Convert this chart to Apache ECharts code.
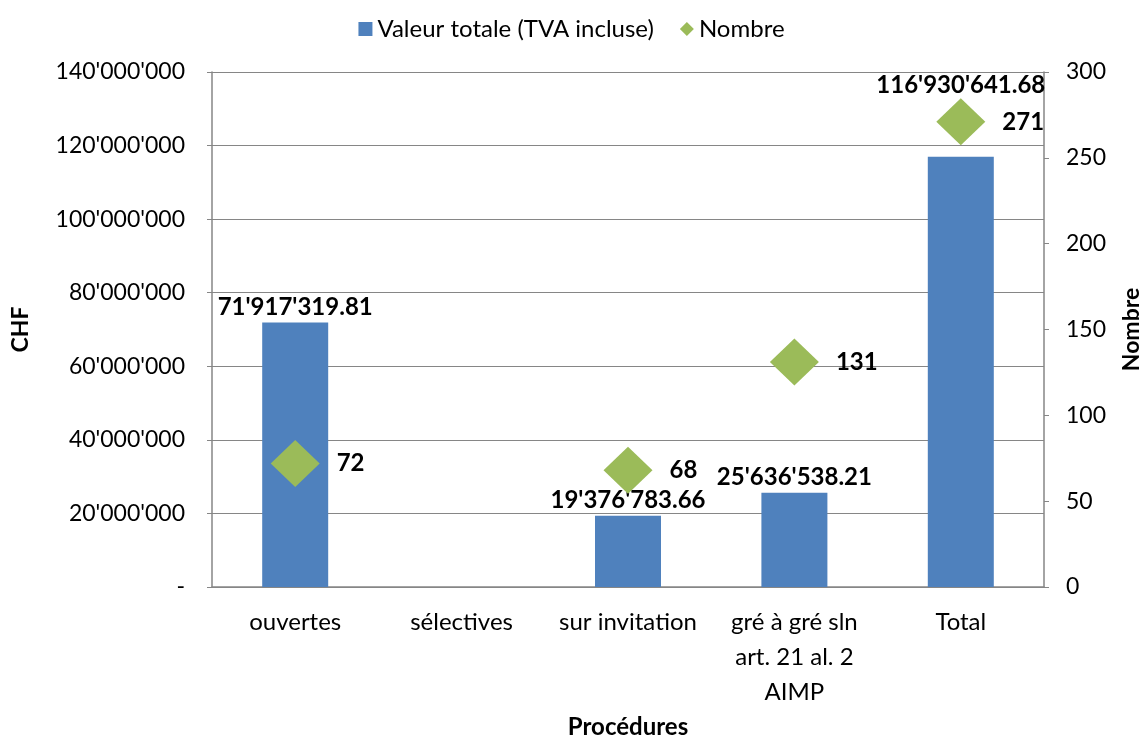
<!DOCTYPE html>
<style>
body {margin: 0;}
#div_echart {height: 738px; width: 1143px;}
</style>
<script src='https://cdn.jsdelivr.net/npm/echarts@6/dist/echarts.min.js'></script>
<div id='div_echart'></div>
<script>
let categories = ['ouvertes', 'sélectives', 'sur invitation', 'gré à gré sln\nart. 21 al. 2\nAIMP', 'Total']
let valeurs = [71917319.81, null, 19376783.66, 25636538.21, 116930641.68]
let nombres = [72, null, 68, 131, 271]
let chf_ticks = [0, 20000000, 40000000, 60000000, 80000000, 100000000, 120000000, 140000000]

let font = 'Lato, "Open Sans", sans-serif'
let fmt_int = v => v === 0 ? '-' : String(Math.round(v)).replace(/\B(?=(\d{3})+(?!\d))/g, "'")
let fmt_dec = v => {
	let parts = v.toFixed(2).split('.')
	return parts[0].replace(/\B(?=(\d{3})+(?!\d))/g, "'") + '.' + parts[1]
}

let echart = echarts.init(document.getElementById('div_echart'))
echart.setOption({
	textStyle: {fontFamily: font},
	animation: false,
	legend: {
		top: 12, left: 'center', itemGap: 26, itemWidth: 14, itemHeight: 14,
		textStyle: {fontSize: 24, color: '#000', fontFamily: font},
		data: [{name: 'Valeur totale (TVA incluse)', icon: 'rect'}, {name: 'Nombre', icon: 'diamond'}]
	},
	grid: {left: 212, right: 99, top: 72, bottom: 151, outerBoundsMode: 'none'},
	xAxis: {
		type: 'category', data: categories,
		name: 'Procédures', nameLocation: 'middle', nameGap: 128,
		nameTextStyle: {fontSize: 24, fontWeight: 'bold', color: '#000', fontFamily: font},
		axisLine: {lineStyle: {color: '#868686', width: 1.5}},
		axisTick: {show: false},
		axisLabel: {fontSize: 24, color: '#000', margin: 18, lineHeight: 35, interval: 0, fontFamily: font}
	},
	yAxis: [{
		type: 'value', min: chf_ticks[0], max: chf_ticks[chf_ticks.length - 1], interval: chf_ticks[1] - chf_ticks[0],
		name: 'CHF', nameLocation: 'middle', nameGap: 180, nameRotate: 90,
		nameTextStyle: {fontSize: 23, fontWeight: 'bold', color: '#000', fontFamily: font},
		axisLine: {show: true, lineStyle: {color: '#868686', width: 1.5}},
		axisTick: {show: true, length: 5, lineStyle: {color: '#868686'}},
		splitLine: {lineStyle: {color: '#868686', width: 1.2}},
		axisLabel: {fontSize: 23, color: '#000', margin: 27, formatter: fmt_int, fontFamily: font}
	}, {
		type: 'value', min: 0, max: 300, interval: 50, position: 'right',
		name: 'Nombre', nameLocation: 'middle', nameGap: 76, nameRotate: 90,
		nameTextStyle: {fontSize: 23, fontWeight: 'bold', color: '#000', fontFamily: font},
		axisLine: {show: true, lineStyle: {color: '#868686', width: 1.5}},
		axisTick: {show: true, length: 5, lineStyle: {color: '#868686'}},
		splitLine: {show: false},
		axisLabel: {fontSize: 23, color: '#000', margin: 22, fontFamily: font}
	}],
	series: [{
		name: 'Valeur totale (TVA incluse)', type: 'bar', barWidth: 66,
		itemStyle: {color: '#4F81BD'},
		data: valeurs.map((v, i) => i === valeurs.length - 1
			? {value: v, label: {distance: 60}}
			: v),
		label: {
			show: true, position: 'top', distance: 3, fontSize: 24, fontWeight: 'bold', color: '#000', fontFamily: font,
			formatter: p => p.value == null ? '' : fmt_dec(p.value)
		}
	}, {
		name: 'Nombre', type: 'scatter', yAxisIndex: 1, symbol: 'diamond', symbolSize: [49, 47],
		itemStyle: {color: '#9BBB59', opacity: 1},
		data: nombres,
		label: {show: true, position: 'right', distance: 17, fontSize: 24, fontWeight: 'bold', color: '#000', opacity: 1, fontFamily: font}
	}]
})
</script>
